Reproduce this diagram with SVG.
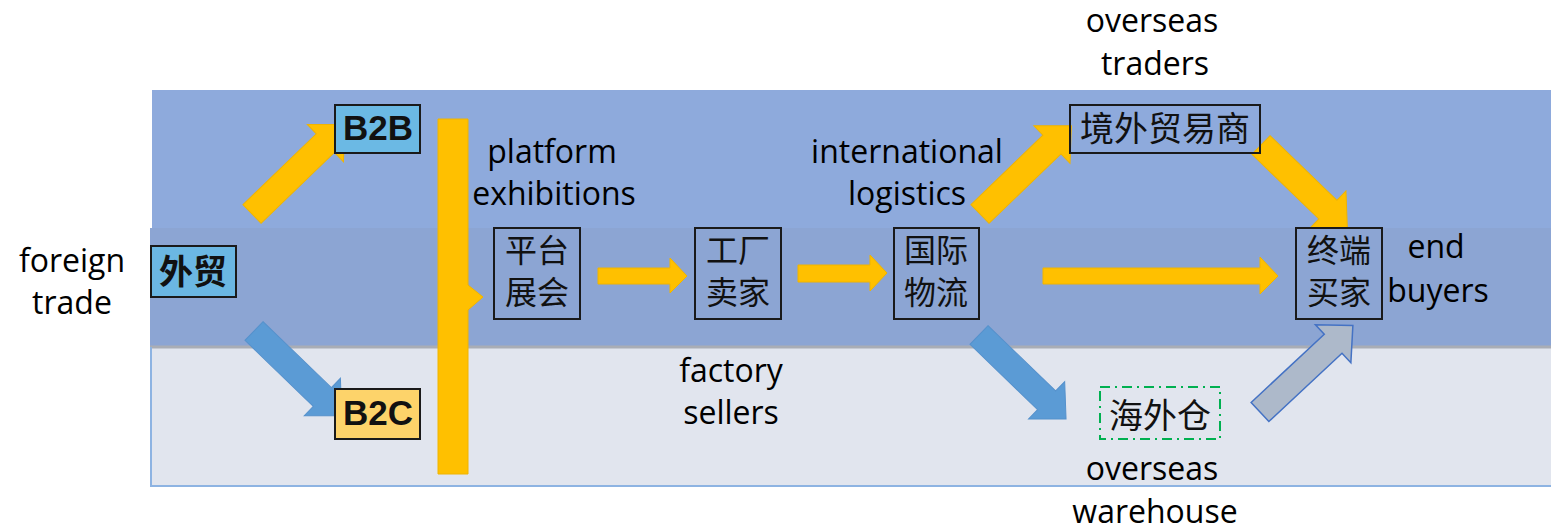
<svg xmlns="http://www.w3.org/2000/svg" width="1551" height="532" viewBox="0 0 1551 532">
<style>
.lbl{font-family:"Open Sans","Noto Sans",sans-serif;font-size:32px;fill:#000;text-anchor:middle}
.cjk{font-family:"Noto Sans CJK SC","Noto Sans",sans-serif;fill:#111;text-anchor:middle}
.box{fill:none;stroke:#1a1a1a;stroke-width:2}
.yel{fill:#ffc000;stroke:#f0b400;stroke-width:1}
.blu{fill:#5b9bd5;stroke:#5591cc;stroke-width:1}
.gry{fill:#adb9ca;stroke:#4472c4;stroke-width:1.5}
</style>
<rect width="1551" height="532" fill="#ffffff"/>
<g id="background">
<rect x="152" y="90" width="1399" height="140" fill="#8eaadc"/>
<rect x="150" y="228" width="1401" height="118" fill="#8ca5d3"/>
<rect x="150" y="346" width="1401" height="140" fill="#e1e5ee"/>
<line x1="150" y1="347" x2="1551" y2="347" stroke="#a9adb5" stroke-width="3"/>
<polyline points="151,347 151,486 1551,486" fill="none" stroke="#8db3e2" stroke-width="2"/>
</g>
<g id="connectors">
<path class="yel" d="M0,-13 L102,-13 L102,-26 L129,0 L102,26 L102,13 L0,13 Z" transform="translate(252,214) rotate(-44)"/>
<path class="blu" d="M0,-13 L95,-13 L95,-26 L122,0 L95,26 L95,13 L0,13 Z" transform="translate(254,331) rotate(44)"/>
<path class="yel" d="M0,-13 L100,-13 L100,-26 L127,0 L100,26 L100,13 L0,13 Z" transform="translate(980,214) rotate(-44)"/>
<path class="blu" d="M0,-13 L94,-13 L94,-26 L121,0 L94,26 L94,13 L0,13 Z" transform="translate(979,335) rotate(44)"/>
<path class="yel" d="M0,-13 L93,-13 L93,-26 L120,0 L93,26 L93,13 L0,13 Z" transform="translate(1261,145) rotate(44)"/>
<path class="gry" d="M0,-13 L100,-13 L100,-26 L127,0 L100,26 L100,13 L0,13 Z" transform="translate(1260,412) rotate(-43)"/>
<path class="yel" d="M598,268 L670,268 L670,258 L687,276 L670,293 L670,284 L598,284 Z"/>
<path class="yel" d="M798,265 L870,265 L870,255 L887,273 L870,291 L870,282 L798,282 Z"/>
<path class="yel" d="M1043,268 L1260,268 L1260,257 L1278,276 L1260,294 L1260,284 L1043,284 Z"/>
<path class="yel" d="M438,119 L468,119 L468,285 L483,297 L468,310 L468,474 L438,474 Z"/>
</g>
<g id="n-waimao">
<rect x="151" y="246" width="85" height="51" fill="#6bb7e3" stroke="#1a1a1a" stroke-width="2"/>
<text class="cjk" x="193" y="284" font-size="34" font-weight="bold">外贸</text>
</g>
<g id="n-b2b">
<rect x="335" y="105" width="85" height="48" fill="#6bb9e4" stroke="#1a1a1a" stroke-width="2"/>
<text x="378" y="140" font-family="'Liberation Sans',Arial,sans-serif" font-size="35" font-weight="bold" text-anchor="middle" fill="#111">B2B</text>
</g>
<g id="n-b2c">
<rect x="335" y="389" width="85" height="50" fill="#fdd36a" stroke="#1a1a1a" stroke-width="2"/>
<text x="378" y="425" font-family="'Liberation Sans',Arial,sans-serif" font-size="35" font-weight="bold" text-anchor="middle" fill="#111">B2C</text>
</g>
<g id="n-platform">
<rect class="box" x="494" y="228" width="86" height="91"/>
<text class="cjk" x="537" y="262" font-size="32">平台</text>
<text class="cjk" x="537" y="304" font-size="32">展会</text>
</g>
<g id="n-factory">
<rect class="box" x="695" y="228" width="86" height="91"/>
<text class="cjk" x="738" y="262" font-size="32">工厂</text>
<text class="cjk" x="738" y="304" font-size="32">卖家</text>
</g>
<g id="n-logistics">
<rect class="box" x="894" y="228" width="85" height="91"/>
<text class="cjk" x="936" y="262" font-size="32">国际</text>
<text class="cjk" x="936" y="304" font-size="32">物流</text>
</g>
<g id="n-traders">
<rect class="box" x="1070" y="105" width="190" height="48"/>
<text class="cjk" x="1165" y="141" font-size="34">境外贸易商</text>
</g>
<g id="n-buyers">
<rect class="box" x="1296" y="228" width="86" height="91"/>
<text class="cjk" x="1339" y="262" font-size="32">终端</text>
<text class="cjk" x="1339" y="304" font-size="32">买家</text>
</g>
<g id="n-warehouse">
<rect x="1100" y="387" width="120" height="52" fill="none" stroke="#00b050" stroke-width="2" stroke-dasharray="10,5,2,5"/>
<text class="cjk" x="1160" y="428" font-size="34">海外仓</text>
</g>
<g id="labels">
<text class="lbl" x="72" y="272">foreign</text>
<text class="lbl" x="72" y="314">trade</text>
<text class="lbl" x="552" y="163">platform</text>
<text class="lbl" x="554" y="205">exhibitions</text>
<text class="lbl" x="907" y="163">international</text>
<text class="lbl" x="907" y="205">logistics</text>
<text class="lbl" x="731" y="382">factory</text>
<text class="lbl" x="731" y="424">sellers</text>
<text class="lbl" x="1152" y="32">overseas</text>
<text class="lbl" x="1155" y="75">traders</text>
<text class="lbl" x="1436" y="258">end</text>
<text class="lbl" x="1438" y="302">buyers</text>
<text class="lbl" x="1152" y="480">overseas</text>
<text class="lbl" x="1155" y="523">warehouse</text>
</g>
</svg>
